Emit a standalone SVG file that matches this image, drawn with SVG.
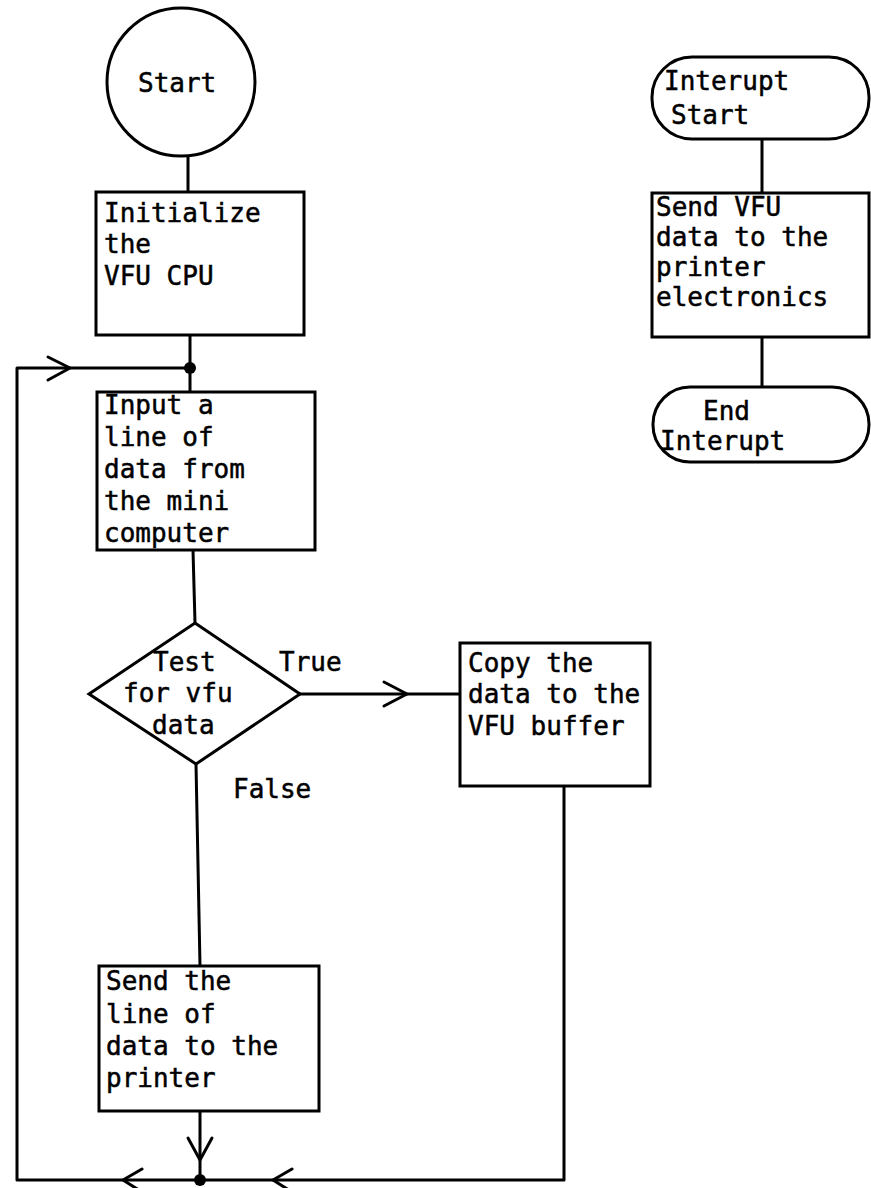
<svg xmlns="http://www.w3.org/2000/svg" width="871" height="1188" viewBox="0 0 871 1188">
  <style>
    .shape { fill: #ffffff; stroke: #000000; stroke-width: 3; }
    .wire { fill: none; stroke: #000000; stroke-width: 3; stroke-linecap: round; stroke-linejoin: round; }
    .dot { fill: #000000; stroke: none; }
    text { font-family: "DejaVu Sans Mono", "Liberation Mono", monospace; font-size: 26px; fill: #000000; stroke: #000000; stroke-width: 0.5; }
  </style>
  <rect x="0" y="0" width="871" height="1188" fill="#ffffff"/>

  <!-- connectors -->
  <g id="connectors">
    <!-- main spine -->
    <line class="wire" x1="188" y1="156" x2="188" y2="192"/>
    <line class="wire" x1="190" y1="335" x2="190" y2="392"/>
    <line class="wire" x1="193" y1="550" x2="195" y2="623"/>
    <line class="wire" x1="196" y1="764" x2="200" y2="966"/>
    <line class="wire" x1="200" y1="1111" x2="200" y2="1180"/>
    <polyline class="wire" points="188,1138 200,1160 212,1138"/>
    <!-- loop back to the input step -->
    <polyline class="wire" points="564,786 564,1180 17,1180 17,368 190,368"/>
    <polyline class="wire" points="48,357 70,368 48,380"/>
    <polyline class="wire" points="142,1169 123,1180 142,1192"/>
    <polyline class="wire" points="292,1169 273,1180 292,1192"/>
    <circle class="dot" cx="190" cy="368" r="6"/>
    <circle class="dot" cx="200" cy="1180" r="6"/>
    <!-- true branch -->
    <line class="wire" x1="300" y1="694" x2="460" y2="694"/>
    <polyline class="wire" points="384,682 407,694 384,706"/>
    <!-- interrupt routine -->
    <line class="wire" x1="762" y1="139" x2="762" y2="193"/>
    <line class="wire" x1="762" y1="337" x2="762" y2="387"/>
  </g>

  <g id="start">
    <circle class="shape" cx="181" cy="82" r="74"/>
    <text x="138" y="92">Start</text>
  </g>

  <g id="init">
    <rect class="shape" x="96" y="192" width="208" height="143"/>
    <text x="104" y="222">Initialize</text>
    <text x="104" y="253">the</text>
    <text x="104" y="285">VFU CPU</text>
  </g>

  <g id="input">
    <rect class="shape" x="97" y="392" width="218" height="158"/>
    <text x="104" y="414">Input a</text>
    <text x="104" y="446">line of</text>
    <text x="104" y="478">data from</text>
    <text x="104" y="510">the mini</text>
    <text x="104" y="542">computer</text>
  </g>

  <g id="test">
    <polygon class="shape" points="195,623 300,694 196,764 89,694"/>
    <text x="153" y="671">Test</text>
    <text x="123" y="702">for vfu</text>
    <text x="152" y="734">data</text>
  </g>

  <g id="label-true">
    <text x="279" y="671">True</text>
  </g>

  <g id="label-false">
    <text x="233" y="798">False</text>
  </g>

  <g id="copy">
    <rect class="shape" x="460" y="643" width="190" height="143"/>
    <text x="468" y="672">Copy the</text>
    <text x="468" y="703">data to the</text>
    <text x="468" y="735">VFU buffer</text>
  </g>

  <g id="send-line">
    <rect class="shape" x="99" y="966" width="220" height="145"/>
    <text x="106" y="990">Send the</text>
    <text x="106" y="1023">line of</text>
    <text x="106" y="1055">data to the</text>
    <text x="106" y="1087">printer</text>
  </g>

  <g id="interrupt-start">
    <rect class="shape" x="652" y="57" width="217" height="82" rx="40" ry="40"/>
    <text x="664" y="90">Interupt</text>
    <text x="671" y="124">Start</text>
  </g>

  <g id="send-vfu">
    <rect class="shape" x="652" y="193" width="217" height="144"/>
    <text x="656" y="216">Send VFU</text>
    <text x="656" y="246">data to the</text>
    <text x="656" y="276">printer</text>
    <text x="656" y="306">electronics</text>
  </g>

  <g id="interrupt-end">
    <rect class="shape" x="653" y="387" width="216" height="75" rx="37" ry="37"/>
    <text x="703" y="420">End</text>
    <text x="660" y="450">Interupt</text>
  </g>
</svg>
